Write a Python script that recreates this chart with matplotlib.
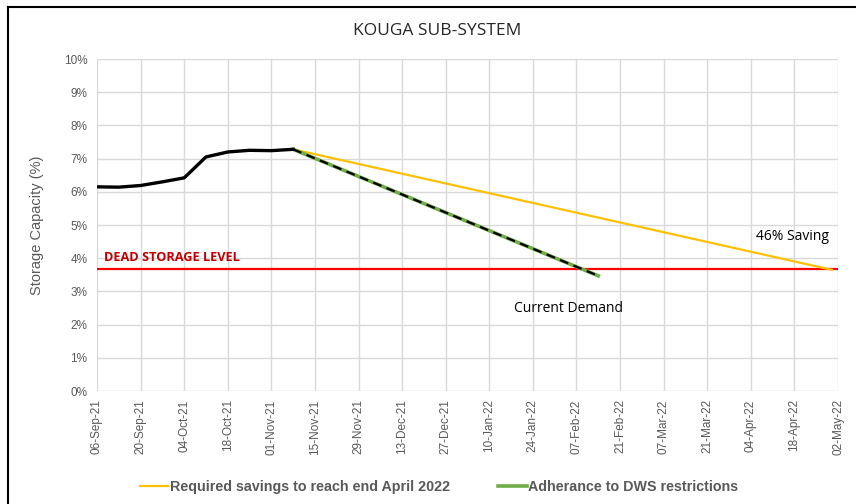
import matplotlib.pyplot as plt
import matplotlib.dates as mdates
import pandas as pd
from matplotlib.lines import Line2D

# weekly storage readings (fraction of capacity)
obsDates = pd.to_datetime(["2021-09-06", "2021-09-13", "2021-09-20", "2021-09-27", "2021-10-04",
                           "2021-10-11", "2021-10-18", "2021-10-25", "2021-11-01", "2021-11-08"])
obsValues = [0.0615, 0.0614, 0.0619, 0.0630, 0.0642, 0.0705, 0.0720, 0.0725, 0.0724, 0.0728]

# projections from last reading
savingDates = pd.to_datetime(["2021-11-08", "2022-04-30"])
savingValues = [0.0728, 0.0365]
demandDates = pd.to_datetime(["2021-11-08", "2022-02-14"])
demandValues = [0.0728, 0.0347]

deadStorage = 0.0366
tickDates = pd.date_range("2021-09-06", "2022-05-02", freq="14D")

plt.rcParams['font.family'] = ['Liberation Sans', 'DejaVu Sans']

fig = plt.figure(figsize=(8.56, 5.04), dpi=100)
ax = fig.add_axes([0.1133, 0.2242, 0.979 - 0.1133, 0.8829 - 0.2242])

grey = '#595959'
ax.axhline(deadStorage, color='#ff0000', lw=1.6, zorder=3)
ax.plot(savingDates, savingValues, color='#ffc000', lw=1.6, zorder=4,
        label='Required savings to reach end April 2022')
ax.plot(demandDates, demandValues, color='#70ad47', lw=2.6, zorder=4,
        label='Adherance to DWS restrictions')
ax.plot(demandDates, demandValues, color='black', lw=1.6, dashes=(4, 2.5), zorder=5)
ax.plot(obsDates, obsValues, color='black', lw=2.4, zorder=6, solid_joinstyle='round')

ax.set_xlim(tickDates[0], tickDates[-1])
ax.set_ylim(0, 0.10)
ax.set_xticks(tickDates)
ax.xaxis.set_major_formatter(mdates.DateFormatter('%d-%b-%y'))
ax.set_yticks([i / 100 for i in range(11)])
ax.set_yticklabels([f"{i}%" for i in range(11)])
ax.tick_params(axis='x', rotation=90, labelsize=8.5, labelcolor=grey, length=0, pad=6)
ax.tick_params(axis='y', labelsize=8.5, labelcolor=grey, length=0, pad=7)
ax.grid(True, color='#d9d9d9', lw=1)
ax.set_axisbelow(True)
for s in ax.spines.values():
    s.set_visible(False)

ax.set_ylabel('Storage Capacity (%)', fontsize=10.5, color=grey, labelpad=14)

fig.text(0.511, 0.938, 'KOUGA SUB-SYSTEM', ha='center', va='center', fontsize=12.5,
         family=['Open Sans', 'DejaVu Sans'], color='#262626')
ax.text(0.01, 0.0382, 'DEAD STORAGE LEVEL', transform=ax.get_yaxis_transform(),
        color='#c00000', fontsize=9.2, fontweight='bold', family=['Open Sans', 'DejaVu Sans'],
        va='bottom', ha='left')
ax.text(pd.Timestamp("2022-04-29"), 0.0465, '46% Saving', fontsize=10,
        family=['Open Sans', 'DejaVu Sans'], ha='right', va='center')
ax.text(pd.Timestamp("2022-01-18"), 0.0250, 'Current Demand', fontsize=10,
        family=['Open Sans', 'DejaVu Sans'], ha='left', va='center')

fig.legend(loc='center', bbox_to_anchor=(0.513, 0.033), ncol=2, frameon=False,
           handlelength=2.0, handletextpad=0.1, columnspacing=3.4,
           prop={'size': 10.25, 'weight': 'bold'}, labelcolor=grey)

# outer frame (left and top edges visible in the source)
fig.add_artist(Line2D([8 / 856, 8 / 856], [0, 1 - 7 / 504], color='black', lw=1.5))
fig.add_artist(Line2D([8 / 856, 1], [1 - 7 / 504, 1 - 7 / 504], color='black', lw=1.5))

fig.savefig('out.png', dpi=100)
